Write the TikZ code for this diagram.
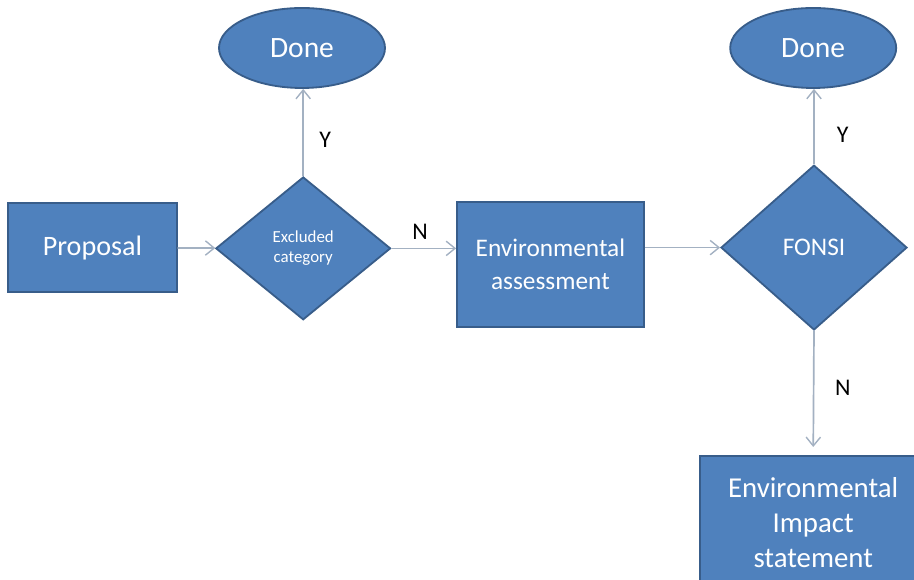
\documentclass[tikz,border=0pt]{standalone}
\usepackage{fontspec}
\setmainfont{Carlito}
\usetikzlibrary{shapes.geometric}
\usetikzlibrary{arrows.meta}
\definecolor{boxblue}{HTML}{4F81BD}
\definecolor{boxedge}{HTML}{385D8A}
\definecolor{linkgray}{HTML}{A3B1C2}
\tikzset{base/.style={fill=boxblue,draw=boxedge,line width=1.3pt,text=white,align=center}}
\tikzset{box/.style={base,rectangle,inner sep=0pt}}
\tikzset{decision/.style={base,diamond,inner sep=0pt}}
\tikzset{terminal/.style={base,ellipse,inner sep=0pt,minimum width=4.15cm,minimum height=2cm,font=\fontsize{21}{25}\selectfont}}
\tikzset{link/.style={draw=linkgray,line width=1.2pt}}
\tikzset{lbl/.style={inner sep=0pt,font=\fontsize{17}{20}\selectfont}}
\tikzset{>={Straight Barb[length=2.2mm,width=3.6mm,line width=1pt]}}

\begin{document}
\begin{tikzpicture}
\useasboundingbox (0,0) rectangle (22.85,14.5);
\clip (0,0) rectangle (22.85,14.5);

\node[box,minimum width=4.22cm,minimum height=2.22cm,font=\fontsize{20}{24}\selectfont] (prop) at (2.31, 8.31) {Proposal};
\node[decision,minimum width=4.37cm,minimum height=3.57cm,font=\fontsize{12}{14}\selectfont] (excl) at (7.58, 8.29) {Excluded\\category};
\node[terminal] (done1) at (7.55, 13.3) {Done};
\node[box,minimum width=4.67cm,minimum height=3.12cm,font=\fontsize{18}{24}\selectfont] (ea) at (13.76, 7.89) {Environmental\\assessment};
\node[decision,minimum width=4.65cm,minimum height=4.12cm,font=\fontsize{18}{22}\selectfont] (fonsi) at (20.35, 8.31) {FONSI};
\node[terminal] (done2) at (20.33, 13.3) {Done};
\node[box,minimum width=5.65cm,minimum height=3.35cm,font=\fontsize{20.5}{25}\selectfont,anchor=north] (eis) at (20.33, 3.125) {Environmental\\Impact\\statement};

\draw[link,->] (prop) -- (excl);
\draw[link,->] (excl.north) -- (excl.north |- done1.south);
\draw[link,->] (excl.east) -- (excl.east -| ea.west);
\draw[link,->] (fonsi.west -| ea.east) -- (fonsi.west);
\draw[link,->] (fonsi.north) -- (fonsi.north |- done2.south);
\draw[link,->,shorten >=0.2cm] (fonsi.south) -- (eis.north);

\node[lbl] (y1) at (8.13, 11.0) {Y};
\node[lbl] (n1) at (10.5, 8.7) {N};
\node[lbl] (y2) at (21.07, 11.12) {Y};
\node[lbl] (n2) at (21.07, 4.8) {N};
\end{tikzpicture}
\end{document}
